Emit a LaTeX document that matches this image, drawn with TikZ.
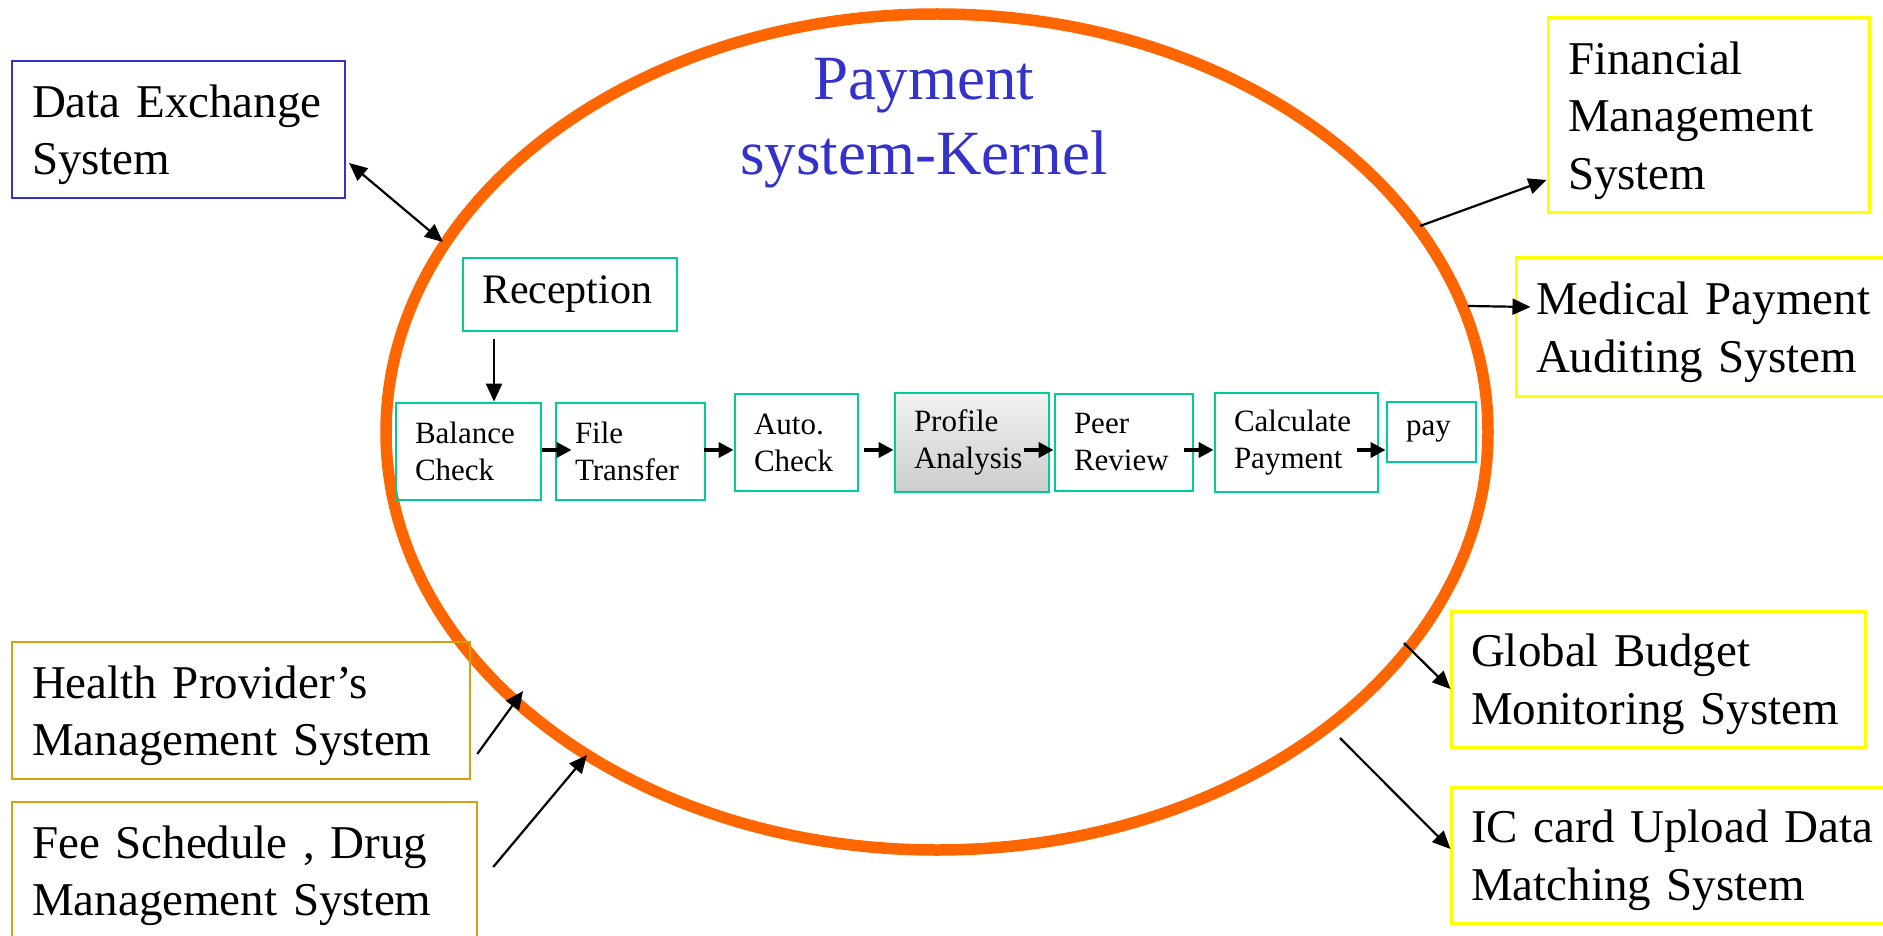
\documentclass[tikz,border=0pt]{standalone}
\usepackage{fontspec}
\setmainfont{Liberation Serif}
\usetikzlibrary{arrows.meta,calc}
\definecolor{korange}{RGB}{255,102,0}
\definecolor{kblue}{RGB}{51,51,204}
\definecolor{kteal}{RGB}{0,204,153}
\definecolor{kgold}{RGB}{214,160,16}
\definecolor{kyellow}{RGB}{255,255,0}
\newcommand{\sysfont}{\fontsize{47}{57.5}\selectfont}
\newcommand{\stepfont}{\fontsize{31}{37}\selectfont}

\begin{document}
\begin{tikzpicture}[x=1pt,y=-1pt,>={Triangle[length=18pt,width=16pt]},
	sysbox/.style={draw,line width=2.5pt,inner xsep=20pt,inner ysep=0pt,align=left,font=\sysfont,execute at begin node=\rule{0pt}{43pt}},
	stepbox/.style={draw=kteal,line width=2.8pt,inner xsep=19pt,inner ysep=0pt,align=left,font=\stepfont},
	flow/.style={line width=3.5pt,-{Triangle[length=15pt,width=15pt]}},
	link/.style={line width=2.2pt}]
				\path[use as bounding box,fill=white] (0,0) rectangle (1883,936);
				% Noyau
				\draw [korange,line width=11.5pt] (937,432) ellipse [x radius=551,y radius=418];
				\node [text=kblue,font=\fontsize{63}{75}\selectfont,align=center] (title) at (924,123.5) {Payment\\system-Kernel};
				% Systemes externes
				\node [sysbox,draw=kblue,line width=2.2pt,text width=293pt,minimum height=137pt] (dx) at (178.5,129.5) {Data~Exchange\\System};
				\node [sysbox,draw=kgold,text width=418pt,minimum height=137pt] (hp) at (241,710.5) {Health~Provider’s\\Management~System};
				\node [sysbox,draw=kgold,text width=425pt,minimum height=137pt] (fee) at (244.5,870.5) {Fee~Schedule~,~Drug\\Management~System};
				\node [sysbox,draw=kyellow,line width=3pt,text width=281pt,minimum height=195pt] (fin) at (1708.5,115.5) {Financial\\Management\\System};
				\node [sysbox,draw=kyellow,line width=3pt,text width=339pt,minimum height=138pt] (med) at (1705.5,327) {Medical~Payment\\Auditing~System};
				\node [sysbox,draw=kyellow,line width=3pt,text width=374pt,minimum height=136pt] (gb) at (1658,679) {Global~Budget\\Monitoring~System};
				\node [sysbox,draw=kyellow,line width=3pt,text width=404pt,minimum height=136pt] (ic) at (1673,855) {IC~card~Upload~Data\\Matching~System};
				% Etapes
				\node [stepbox,font=\fontsize{42}{50}\selectfont,text width=176pt,minimum height=73pt] (rec) at (570,294.5) {Reception};
				\node [stepbox,text width=107pt,minimum height=97pt] (bal) at (468.5,451.5) {Balance\\Check};
				\node [stepbox,text width=111pt,minimum height=97pt] (file) at (630.5,451.5) {File\\Transfer};
				\node [stepbox,text width=85pt,minimum height=97pt] (autochk) at (796.5,442.5) {Auto.\\Check};
				\node [stepbox,top color=black!5,bottom color=black!20,text width=116pt,minimum height=99pt] (prof) at (972,442.5) {Profile\\Analysis};
				\node [stepbox,text width=100pt,minimum height=97pt] (peer) at (1124,442.5) {Peer\\Review};
				\node [stepbox,text width=125pt,minimum height=99pt] (cpay) at (1296.5,442.5) {Calculate\\Payment};
				\node [stepbox,text width=51pt,minimum height=60pt] (pay) at (1431.5,432) {pay};
				% Flèches internes
				\coordinate (row) at (0,450);
				\draw [link,->] ($(rec.south)+(-76,7)$) -- ($(bal.north)+(25.5,0)$);
				\draw [flow] (bal.east |- row) -- ($(file.west |- row)+(17,0)$);
				\draw [flow] ($(file.east |- row)+(-2,0)$) -- (autochk.west |- row);
				\draw [flow] ($(autochk.east |- row)+(5,0)$) -- (prof.west |- row);
				\draw [flow] ($(prof.east |- row)+(-26,0)$) -- (peer.west |- row);
				\draw [flow] ($(peer.east |- row)+(-10,0)$) -- (cpay.west |- row);
				\draw [flow] ($(cpay.east |- row)+(-22,0)$) -- (pay.west |- row);
				% Flèches externes
				\coordinate (kdx) at (443,242);
				\coordinate (khp) at (523,691);
				\coordinate (kfee) at (587,755);
				\coordinate (kfin) at (1420,226);
				\coordinate (kmed) at (1468,306);
				\coordinate (kgb) at (1404,643);
				\coordinate (kic) at (1340,738);
				\draw [link,<->] ($(dx.east)+(3,33.5)$) -- (kdx);
				\draw [link,->] ($(hp.east)+(6,43.5)$) -- (khp);
				\draw [link,->] ($(fee.east)+(15,-3.5)$) -- (kfee);
				\draw [link,->] (kfin) -- ($(fin.west)+(0,64.5)$);
				\draw [link,->] (kmed) -- ($(med.west)+(16,-20)$);
				\draw [link,->] (kgb) -- ($(gb.west)+(1,10)$);
				\draw [link,->] (kic) -- ($(ic.west)+(1,-6)$);
\end{tikzpicture}
\end{document}
